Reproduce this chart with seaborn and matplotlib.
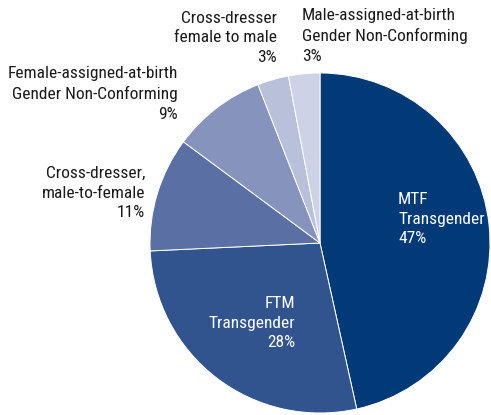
import matplotlib
matplotlib.use("Agg")
import matplotlib.pyplot as plt
import seaborn as sns

# data
groups = ["MTF\nTransgender", "FTM\nTransgender", "Cross-dresser,\nmale-to-female",
          "Female-assigned-at-birth\nGender Non-Conforming", "Cross-dresser\nfemale to male",
          "Male-assigned-at-birth\nGender Non-Conforming"]
shares = [47, 28, 11, 9, 3, 3]
colors = ["#023a78", "#31548e", "#5a70a4", "#8593bd", "#b8c0da", "#cdd2e6"]

# label placement in pixels (x, y centre of block, alignment, text colour)
label_pos = [(398, 219, "left", "white"),
             (295, 323, "right", "white"),
             (145, 193, "right", "#1a1a1a"),
             (178, 94, "right", "#1a1a1a"),
             (277, 38, "right", "#1a1a1a"),
             (302, 36, "left", "#1a1a1a")]

sns.set_theme(style="white")
plt.rcParams["font.family"] = ["Roboto Condensed", "DejaVu Sans"]

W, H = 491, 415
fig = plt.figure(figsize=(W / 100, H / 100), dpi=100)
cx, cy, r = 320, 243, 170
ax = fig.add_axes([(cx - r) / W, (H - cy - r) / H, 2 * r / W, 2 * r / H])
ax.pie(shares, colors=colors, startangle=90, counterclock=False, radius=1,
       wedgeprops=dict(edgecolor="white", linewidth=0.7))
ax.set_xlim(-1, 1)
ax.set_ylim(-1, 1)
ax.set_aspect("equal")
ax.axis("off")

for name, val, (px, py, ha, col) in zip(groups, shares, label_pos):
    fig.text(px / W, 1 - py / H, f"{name}\n{val}%", ha=ha, va="center",
             multialignment=ha, color=col, fontsize=12.5, linespacing=1.4)

fig.savefig("out.png", dpi=100)
